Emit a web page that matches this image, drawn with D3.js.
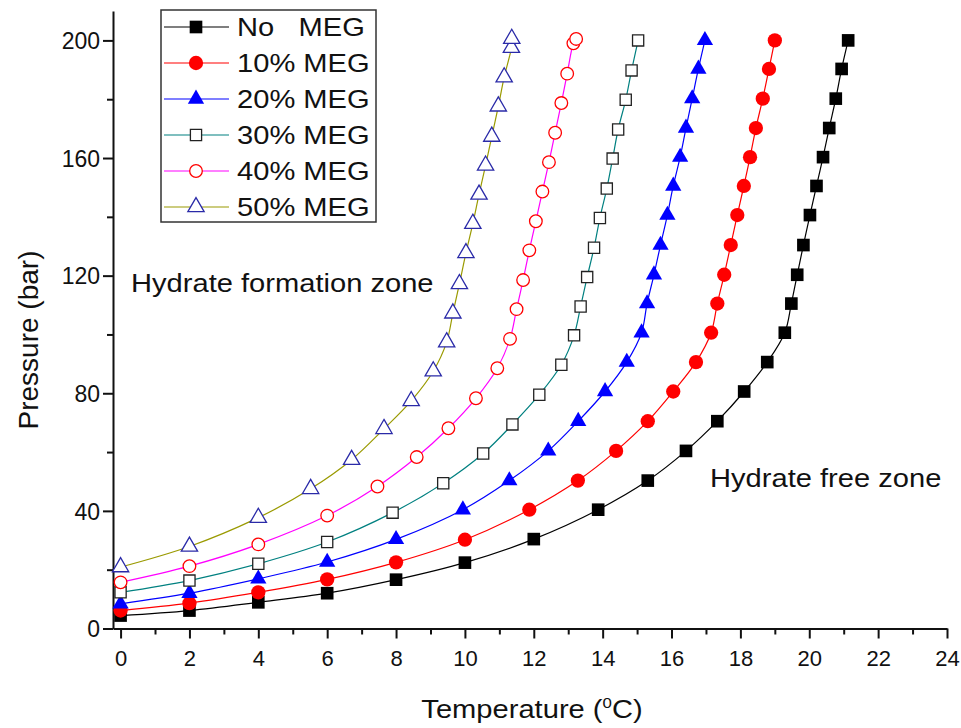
<!DOCTYPE html>
<html>
<head>
<meta charset="utf-8">
<script src="https://cdn.jsdelivr.net/npm/d3@7"></script>
<style>
  body { margin: 0; background: #fff; }
  text { font-family: "Liberation Sans", Arial, sans-serif; fill: #111; }
</style>
</head>
<body>
<div id="chart"></div>
<script>
// values: temperature (degC) and pressure (bar)
var noMegT = [0, 2, 4, 6, 8, 10, 12.0, 13.87, 15.31, 16.42, 17.33, 18.11, 18.78, 19.29, 19.48, 19.65, 19.83, 20.02, 20.21, 20.4, 20.58, 20.77, 20.94, 21.13];
var noMegP = [4.4, 6.1, 8.9, 12.0, 16.6, 22.4, 30.4, 40.4, 50.3, 60.4, 70.5, 80.6, 90.6, 100.6, 110.5, 120.3, 130.4, 140.6, 150.5, 160.3, 170.2, 180.2, 190.3, 200];

var meg10T = [0, 2, 4, 6, 8, 10, 11.87, 13.28, 14.39, 15.31, 16.05, 16.71, 17.15, 17.33, 17.53, 17.72, 17.91, 18.1, 18.28, 18.45, 18.65, 18.83, 19.0];
var meg10P = [6.1, 8.6, 12.3, 16.7, 22.5, 30.2, 40.4, 50.3, 60.4, 70.5, 80.6, 90.6, 100.6, 110.5, 120.3, 130.4, 140.6, 150.5, 160.3, 170.2, 180.2, 190.3, 200];

var meg20T = [0, 2, 4, 6, 8, 9.94, 11.29, 12.42, 13.29, 14.07, 14.7, 15.13, 15.29, 15.49, 15.68, 15.88, 16.05, 16.25, 16.42, 16.6, 16.78, 16.97];
var meg20P = [8.4, 12.0, 16.9, 22.6, 30.3, 40.4, 50.3, 60.4, 70.5, 80.6, 90.6, 100.6, 110.5, 120.3, 130.4, 140.6, 150.5, 160.3, 170.2, 180.2, 190.3, 200];

var meg30T = [0, 2, 4, 6, 7.9, 9.37, 10.53, 11.38, 12.16, 12.8, 13.17, 13.36, 13.55, 13.75, 13.92, 14.12, 14.29, 14.45, 14.67, 14.84, 15.03];
var meg30P = [12.3, 16.3, 22.0, 29.4, 39.4, 49.4, 59.5, 69.4, 79.5, 89.7, 99.7, 109.5, 119.5, 129.5, 139.6, 149.6, 159.8, 169.7, 179.8, 189.8, 200];

var meg40T = [0, 2, 4, 6, 7.46, 8.6, 9.52, 10.32, 10.94, 11.31, 11.5, 11.69, 11.87, 12.06, 12.25, 12.44, 12.62, 12.8, 12.97, 13.15, 13.23];
var meg40P = [15.7, 21.2, 28.6, 38.4, 48.3, 58.3, 68.1, 78.3, 88.5, 98.5, 108.6, 118.5, 128.6, 138.5, 148.6, 158.6, 168.6, 178.7, 188.7, 199, 200.5];

var meg50T = [0, 2, 4, 5.52, 6.71, 7.65, 8.44, 9.08, 9.47, 9.65, 9.84, 10.03, 10.23, 10.41, 10.6, 10.78, 10.97, 11.14, 11.35, 11.36];
var meg50P = [20.9, 27.9, 37.7, 47.5, 57.4, 67.9, 77.4, 87.5, 97.4, 107.2, 117.2, 127.7, 137.7, 147.6, 157.5, 167.3, 177.6, 187.5, 197.5, 200.6];

var seriesNames = ["No   MEG", "10% MEG", "20% MEG", "30% MEG", "40% MEG", "50% MEG"];
var xTicks = [0, 2, 4, 6, 8, 10, 12, 14, 16, 18, 20, 22, 24];
var yTicks = [0, 40, 80, 120, 160, 200];

// styles per series
var styles = [
  {line: "#000000", sym: d3.symbolSquare,   size: 160, fill: "#000000", stroke: "none"},
  {line: "#ff0000", sym: d3.symbolCircle,   size: 160, fill: "#ff0000", stroke: "none"},
  {line: "#0000ff", sym: d3.symbolTriangle, size: 115, fill: "#0000ff", stroke: "none"},
  {line: "#008080", sym: d3.symbolSquare,   size: 125, fill: "#ffffff", stroke: "#222222"},
  {line: "#ff00ff", sym: d3.symbolCircle,   size: 125, fill: "#ffffff", stroke: "#ff0000"},
  {line: "#9a9a00", sym: d3.symbolTriangle, size: 115, fill: "#ffffff", stroke: "#2a2aa8"}
];

var allT = [noMegT, meg10T, meg20T, meg30T, meg40T, meg50T];
var allP = [noMegP, meg10P, meg20P, meg30P, meg40P, meg50P];
var chData = allT.map(function(ts, i){
  return {name: seriesNames[i], vals: ts.map(function(t, j){ return {t: t, p: allP[i][j]}; })};
});

var canvasW = 961, canvasH = 728;
var svg = d3.select("#chart").append("svg")
  .attr("width", canvasW).attr("height", canvasH);

var x = d3.scaleLinear().domain([-0.22, 24]).range([113, 947]);
var y = d3.scaleLinear().domain([0, 210]).range([628.5, 11]);

// axes
var xAxis = svg.append("g").attr("transform", "translate(0," + y(0) + ")")
  .call(d3.axisBottom(x).tickValues(xTicks).tickSizeInner(10).tickSizeOuter(0).tickPadding(12));
var xMinor = svg.append("g").attr("transform", "translate(0," + y(0) + ")")
  .call(d3.axisBottom(x).tickValues(d3.range(1, 24, 2)).tickSize(6).tickFormat(""));
var yAxis = svg.append("g").attr("transform", "translate(" + x.range()[0] + ",0)")
  .call(d3.axisLeft(y).tickValues(yTicks).tickSizeInner(10).tickSizeOuter(0).tickPadding(3));
var yMinor = svg.append("g").attr("transform", "translate(" + x.range()[0] + ",0)")
  .call(d3.axisLeft(y).tickValues([20, 60, 100, 140, 180]).tickSize(6).tickFormat(""));

[xAxis, xMinor, yAxis, yMinor].forEach(function(a){
  a.select(".domain").attr("stroke", "#111").attr("stroke-width", 2);
  a.selectAll(".tick line").attr("stroke", "#111").attr("stroke-width", 2);
});
xMinor.select(".domain").remove();
yMinor.select(".domain").remove();
xAxis.selectAll(".tick text").style("font-size", "22px").attr("fill", "#111");
yAxis.selectAll(".tick text").style("font-size", "23px").attr("fill", "#111")
  .attr("dy", "0.36em");

// axis titles
svg.append("text")
  .attr("transform", "translate(532,718) scale(1.12,1)")
  .attr("text-anchor", "middle")
  .style("font-size", "26px")
  .html('Temperature (<tspan dy="-10" font-size="15px">0</tspan><tspan dy="10">C)</tspan>');

svg.append("text")
  .attr("transform", "translate(38,340) rotate(-90)")
  .attr("text-anchor", "middle")
  .style("font-size", "28px")
  .text("Pressure (bar)");

// curves
var line = d3.line()
  .curve(d3.curveCatmullRom.alpha(0.5))
  .x(function(d){ return x(d.t); })
  .y(function(d){ return y(d.p); });

var groups = svg.selectAll(".series").data(chData).enter()
  .append("g").attr("class", "series");

groups.append("path")
  .attr("d", function(d){ return line(d.vals); })
  .attr("fill", "none")
  .attr("stroke", function(d, i){ return styles[i].line; })
  .attr("stroke-width", 1.2);

groups.each(function(d, i){
  var st = styles[i];
  d3.select(this).selectAll("path.pt").data(d.vals).enter()
    .append("path").attr("class", "pt")
    .attr("transform", function(v){ return "translate(" + x(v.t) + "," + y(v.p) + ")"; })
    .attr("d", d3.symbol().type(st.sym).size(st.size))
    .attr("fill", st.fill)
    .attr("stroke", st.stroke)
    .attr("stroke-width", 1.3);
});

// annotations
svg.append("text")
  .attr("transform", "translate(131,292) scale(1.12,1)")
  .style("font-size", "26px")
  .text("Hydrate formation zone");
svg.append("text")
  .attr("transform", "translate(710,487) scale(1.12,1)")
  .style("font-size", "26px")
  .text("Hydrate free zone");

// legend
var legend = svg.append("g");
legend.append("rect")
  .attr("x", 161).attr("y", 10).attr("width", 215).attr("height", 212)
  .attr("fill", "#fff").attr("stroke", "#333").attr("stroke-width", 1.5);

var rows = legend.selectAll(".lg").data(seriesNames).enter()
  .append("g").attr("class", "lg")
  .attr("transform", function(d, i){ return "translate(0," + (27 + i * 36) + ")"; });
rows.append("line")
  .attr("x1", 164).attr("x2", 229)
  .attr("stroke", function(d, i){ return styles[i].line; })
  .attr("stroke-width", 1.2);
rows.append("path")
  .attr("transform", "translate(196,0)")
  .attr("d", function(d, i){ return d3.symbol().type(styles[i].sym).size(styles[i].size)(); })
  .attr("fill", function(d, i){ return styles[i].fill; })
  .attr("stroke", function(d, i){ return styles[i].stroke; })
  .attr("stroke-width", 1.3);
rows.append("text")
  .attr("transform", "translate(237,9) scale(1.12,1)")
  .style("font-size", "26px")
  .style("white-space", "pre")
  .attr("xml:space", "preserve")
  .text(function(d){ return d; });
</script>
</body>
</html>
